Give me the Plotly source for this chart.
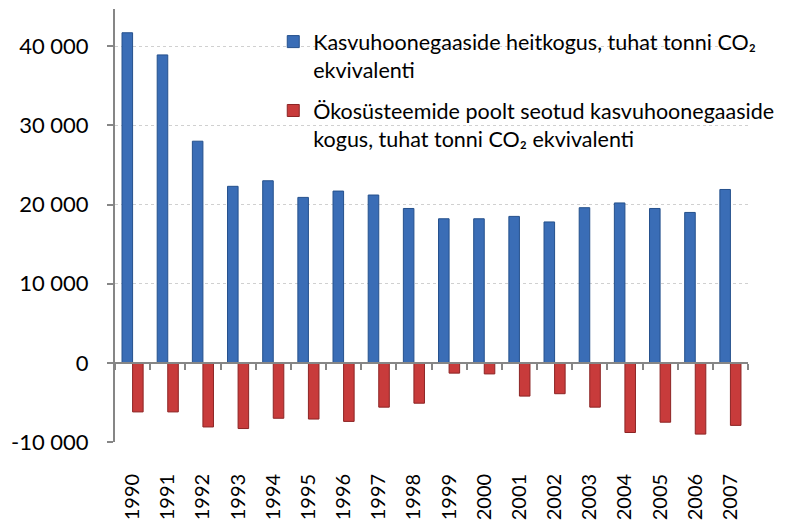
import plotly.graph_objects as go

years = [str(y) for y in range(1990, 2008)]
emissions = [41700, 38900, 28000, 22300, 23000, 20900, 21700, 21200, 19500,
             18200, 18200, 18500, 17800, 19600, 20200, 19500, 19000, 21900]
sinks = [-6200, -6200, -8100, -8300, -7000, -7100, -7400, -5600, -5100,
         -1300, -1400, -4200, -3900, -5600, -8800, -7500, -9000, -7900]
ytick_vals = [-10000, 0, 10000, 20000, 30000, 40000]
ytick_text = ["-10 000", "0", "10 000", "20 000", "30 000", "40 000"]
name_em = "Kasvuhoonegaaside heitkogus, tuhat tonni CO₂<br>ekvivalenti"
name_sink = "Ökosüsteemide poolt seotud kasvuhoonegaaside<br>kogus, tuhat tonni CO₂ ekvivalenti"

YMIN, YMAX = -10000, 44700
FONT = "Lato"

fig = go.Figure()
fig.add_trace(go.Bar(x=years, y=emissions, name=name_em, legendgroup="a",
                     marker=dict(color="#3a6db6", line=dict(color="#24508c", width=1))))
fig.add_trace(go.Bar(x=years, y=sinks, name=name_sink, legendgroup="b",
                     marker=dict(color="#c83b3b", line=dict(color="#8c2424", width=1))))

zero_pos = (0 - YMIN) / (YMAX - YMIN)

# page body has an 8px default margin, so the figure is sized 8px smaller
fig.update_layout(
    width=792, height=515,
    margin=dict(l=107, r=52, t=1, b=81),
    paper_bgcolor="white", plot_bgcolor="white",
    barmode="group", bargap=0.4, bargroupgap=0,
    font=dict(family=FONT, color="black"),
    showlegend=True,
    legend=dict(x=0.25, y=0.972, xanchor="left", yanchor="top",
                bgcolor="rgba(0,0,0,0)", font=dict(family=FONT, size=21.5, color="black"),
                valign="top", tracegroupgap=10, traceorder="grouped"),
    xaxis=dict(type="category", anchor="free", position=zero_pos, automargin=False,
               showline=True, linecolor="#868686", linewidth=2,
               ticks="outside", tickson="boundaries", ticklen=6, tickcolor="#868686", tickwidth=2,
               tickangle=-90, tickfont=dict(family=FONT, size=20, color="black"),
               ticklabelstandoff=102, showgrid=False),
    yaxis=dict(range=[YMIN, YMAX], tickvals=ytick_vals, ticktext=ytick_text, automargin=False,
               showline=True, linecolor="#868686", linewidth=2,
               ticks="outside", ticklen=6, tickcolor="#868686", tickwidth=2,
               tickfont=dict(family=FONT, size=22, color="black"), ticklabelstandoff=14,
               showgrid=True, gridcolor="#d0d0d0", griddash="dot", gridwidth=1,
               zeroline=False),
)

fig.write_html("out.html")
